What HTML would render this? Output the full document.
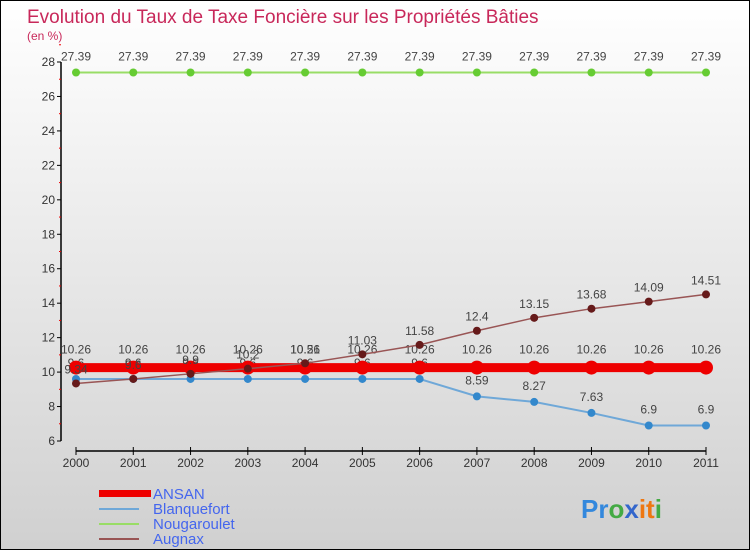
<!DOCTYPE html>
<html><head><meta charset="utf-8"><style>
body{margin:0;width:750px;height:550px;overflow:hidden;font-family:"Liberation Sans",sans-serif}
#wrap{position:relative;width:748px;height:548px;border:1px solid #000;background:linear-gradient(#ffffff,#d0d0d0)}
svg{position:absolute;left:0;top:0}
</style></head><body>
<div id="wrap">
<svg id="chart" width="750" height="550">
<text x="26" y="22" font-size="19" fill="#c8285a">Evolution du Taux de Taxe Foncière sur les Propriétés Bâties</text>
<text x="26" y="39" font-size="12" fill="#c8285a">(en %)</text>
<g id="axes"></g><g id="series"></g>
<g>
<rect x="98" y="489" width="52" height="7" fill="#ee0000"/>
<text x="152" y="498" font-size="15" fill="#4466ee">ANSAN</text>
<line x1="98" y1="508" x2="138" y2="508" stroke="#6fa8d8" stroke-width="2"/>
<text x="152" y="513" font-size="15" fill="#4466ee">Blanquefort</text>
<line x1="98" y1="523" x2="138" y2="523" stroke="#99dd66" stroke-width="2"/>
<text x="152" y="528" font-size="15" fill="#4466ee">Nougaroulet</text>
<line x1="98" y1="538" x2="138" y2="538" stroke="#995555" stroke-width="2"/>
<text x="152" y="543" font-size="15" fill="#4466ee">Augnax</text>
</g>
<text x="580" y="517" font-size="26" font-weight="bold"><tspan fill="#3388dd">Pr</tspan><tspan fill="#44aa44">o</tspan><tspan fill="#3366cc">x</tspan><tspan fill="#ee7711">it</tspan><tspan fill="#44aa44">i</tspan></text>
</svg></div>
<script>
const years=[2000,2001,2002,2003,2004,2005,2006,2007,2008,2009,2010,2011];
const yTicks=[6,8,10,12,14,16,18,20,22,24,26,28];
const ansan=[10.26,10.26,10.26,10.26,10.26,10.26,10.26,10.26,10.26,10.26,10.26,10.26];
const blanquefort=[9.6,9.6,9.6,9.6,9.6,9.6,9.6,8.59,8.27,7.63,6.9,6.9];
const nougaroulet=[27.39,27.39,27.39,27.39,27.39,27.39,27.39,27.39,27.39,27.39,27.39,27.39];
const augnax=[9.34,9.6,9.9,10.2,10.51,11.03,11.58,12.4,13.15,13.68,14.09,14.51];
const NS='http://www.w3.org/2000/svg';
const X=i=>75+i*(630/11);
const Y=v=>440-(v-6)*(379/22);
function mk(t,a,p){const e=document.createElementNS(NS,t);for(const k in a)e.setAttribute(k,a[k]);p.appendChild(e);return e;}
const ax=document.getElementById('axes'),sg=document.getElementById('series');
const yl=mk('line',{x1:60,y1:61,x2:60,y2:440,stroke:'#000','stroke-width':1.5},ax);


const xl=mk('line',{x1:75,y1:450,x2:705,y2:450,stroke:'#000','stroke-width':1.5},ax);


yTicks.forEach(v=>{
 mk('line',{x1:56,y1:Y(v),x2:60,y2:Y(v),stroke:'#000'},ax);
 mk('line',{x1:58,y1:Y(v+1),x2:60,y2:Y(v+1),stroke:'#e00'},ax);
 const t=mk('text',{x:54,y:Y(v)+4,'font-size':12,'text-anchor':'end',fill:'#333'},ax);t.textContent=v;
 
 
});
years.forEach((y,i)=>{
 mk('line',{x1:X(i),y1:446,x2:X(i),y2:454,stroke:'#000'},ax);
 const t=mk('text',{x:X(i),y:466,'font-size':12,'text-anchor':'middle',fill:'#333'},ax);t.textContent=y;
 
 
});
function series(d,name,color,lw,dot,dc,lab){
 const g=mk('g',{},sg);
 
 
 mk('polyline',{points:d.map((v,i)=>X(i)+','+Y(v)).join(' '),fill:'none',stroke:color,'stroke-width':lw},g);
 d.forEach((v,i)=>{
  const c=mk('circle',{cx:X(i),cy:Y(v),r:dot,fill:dc},g);
  
  
  const t=mk('text',{x:X(i),y:Y(v)-lab,'font-size':12,'text-anchor':'middle',fill:'#444'},g);t.textContent=v;
 });
}
series(nougaroulet,'nougaroulet','#99dd66',2,4,'#66cc33',12);
series(blanquefort,'blanquefort','#6fa8d8',2,4,'#3388cc',12);
series(ansan,'ansan','#ee0000',9,7,'#ee0000',14);
series(augnax,'augnax','#995555',1.5,4,'#661a1a',10);
</script>
</body></html>
